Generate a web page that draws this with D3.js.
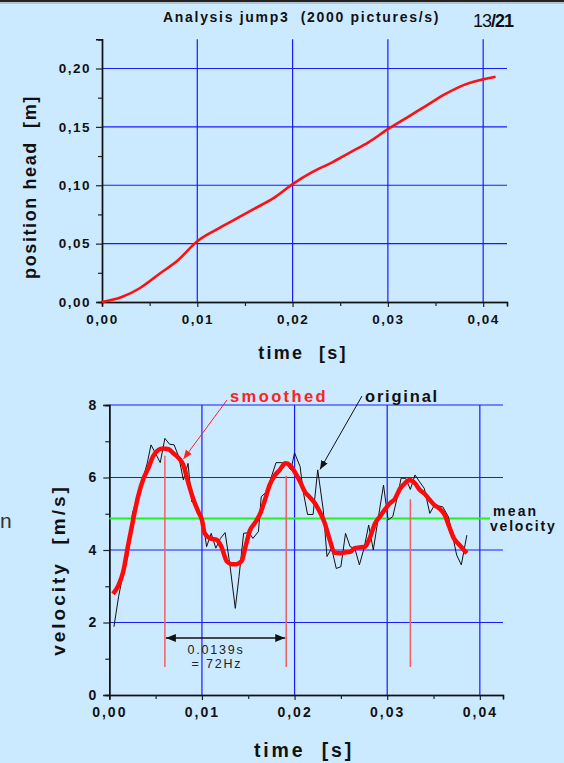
<!DOCTYPE html>
<html><head><meta charset="utf-8">
<script src="https://cdn.jsdelivr.net/npm/d3@7"></script>
<style>
html,body{margin:0;padding:0;background:#cceaff;}
svg{display:block;font-family:"Liberation Sans",Arial,sans-serif;}
</style></head>
<body>
<script>
// ---------- data ----------
const posTime = [0,0.002,0.004,0.006,0.008,0.010,0.012,0.014,0.016,0.018,0.020,0.022,0.024,0.026,0.028,0.030,0.032,0.034,0.036,0.038,0.0413];
const posValue = [0,0.004,0.012,0.024,0.036,0.052,0.062,0.071,0.080,0.089,0.101,0.111,0.119,0.128,0.137,0.148,0.158,0.168,0.178,0.186,0.193];

const origTime = [0.0005,0.001,0.0015,0.002,0.0025,0.003,0.0036,0.0041,0.0045,0.0049,0.0055,0.006,0.0065,0.007,0.0075,0.008,0.0085,0.0089,0.0094,0.0101,0.0105,0.011,0.0115,0.012,0.0125,0.013,0.0136,0.014,0.0145,0.0151,0.0155,0.0161,0.0164,0.017,0.0175,0.018,0.0186,0.019,0.0196,0.020,0.0206,0.0209,0.0214,0.022,0.0225,0.0231,0.0235,0.024,0.0245,0.025,0.0255,0.026,0.0265,0.027,0.0275,0.028,0.0285,0.029,0.0296,0.0301,0.0306,0.0311,0.0315,0.032,0.0325,0.033,0.0335,0.034,0.0346,0.0351,0.0356,0.036,0.0366,0.037,0.0375,0.038,0.0386];
const origValue = [1.88,2.71,3.36,3.82,5.02,5.43,5.93,6.40,6.90,6.71,6.41,7.08,6.92,6.90,6.57,5.93,6.39,5.33,5.24,4.83,4.09,4.46,4.05,4.32,4.48,3.63,2.39,3.26,4.46,4.48,4.32,4.51,5.47,5.61,6.02,6.41,6.41,6.41,6.21,6.68,6.30,5.66,4.98,4.98,6.21,5.10,3.82,4.05,3.49,3.54,4.46,4.09,4.05,3.59,4.05,4.69,4.00,4.83,5.79,4.83,4.92,5.47,5.98,5.98,5.67,6.07,5.88,5.70,5.01,5.24,5.21,5.19,4.92,4.46,3.86,3.59,4.41];

const smoothTime = [0.0004,0.001,0.0015,0.002,0.0026,0.0031,0.0037,0.0042,0.0047,0.0053,0.0058,0.0064,0.0069,0.0074,0.008,0.0085,0.0091,0.0096,0.010,0.0103,0.0109,0.0116,0.0121,0.0127,0.0132,0.0137,0.0143,0.0147,0.0152,0.0157,0.0163,0.0168,0.0173,0.0179,0.0184,0.019,0.0195,0.020,0.0206,0.0211,0.0216,0.0222,0.0227,0.0232,0.0238,0.0243,0.0249,0.0254,0.026,0.0265,0.027,0.0276,0.0281,0.0287,0.0292,0.0297,0.0303,0.0308,0.0314,0.0319,0.0324,0.033,0.0335,0.034,0.0346,0.0351,0.0356,0.0362,0.0367,0.0372,0.0378,0.0386];
const smoothValue = [2.79,3.03,3.40,4.09,4.87,5.47,5.98,6.25,6.57,6.76,6.80,6.78,6.67,6.56,6.34,5.88,5.38,5.06,4.83,4.46,4.32,4.28,4.09,3.68,3.61,3.61,3.70,4.09,4.55,4.74,5.01,5.38,5.79,6.07,6.21,6.39,6.34,6.16,5.88,5.61,5.47,5.29,5.06,4.78,4.28,3.93,3.91,3.93,3.95,4.05,4.07,4.09,4.32,4.74,4.92,5.10,5.29,5.40,5.70,5.84,5.93,5.84,5.66,5.56,5.38,5.24,5.15,4.97,4.64,4.32,4.14,3.91];

const peakTimes = [0.006, 0.0191, 0.0325];
const peakTops = [6.6, 6.05, 5.4];
const meanVelocity = 4.87;
const periodText = ["0.0139s", "= 72Hz"];

const posTicks = [0,0.05,0.10,0.15,0.20];
const velTicks = [0,2,4,6,8];
const timeTicks = [0,0.01,0.02,0.03,0.04];

// ---------- drawing ----------
const W = 564, H = 763;
const svg = d3.select("body").append("svg").attr("width", W).attr("height", H);
svg.append("rect").attr("width", W).attr("height", H).attr("fill", "#cceaff");
svg.append("line").attr("x1",0).attr("x2",W).attr("y1",1).attr("y2",1).attr("stroke","#222").attr("stroke-width",2);
svg.append("line").attr("x1",0).attr("x2",W).attr("y1",3).attr("y2",3).attr("stroke","#999").attr("stroke-width",1);

const defs = svg.append("defs");
function marker(id, color, size){
  defs.append("marker").attr("id", id).attr("viewBox","0 0 10 10").attr("refX",10).attr("refY",5)
    .attr("markerWidth",size).attr("markerHeight",size).attr("orient","auto-start-reverse")
    .attr("markerUnits","userSpaceOnUse")
    .append("path").attr("d","M0,1 L10,5 L0,9 z").attr("fill",color);
}
marker("arrR","#ff2020",9);
marker("arrK","#111",9);
marker("arrP","#111",10);

// Title
svg.append("text").attr("x",163).attr("y",22).attr("font-size",14).attr("font-weight","bold")
  .attr("letter-spacing",1.7).attr("fill","#111")
  .style("white-space","pre").text("Analysis jump3  (2000 pictures/s)");
const pg = svg.append("text").attr("x",473).attr("y",27).attr("font-size",18).attr("letter-spacing",-1).attr("fill","#111");
pg.append("tspan").text("13");
pg.append("tspan").attr("font-weight","bold").text("/21");

// small letter at left edge
svg.append("text").attr("x",0).attr("y",528).attr("font-size",21).attr("fill","#333").text("n");

const fmt = d => d3.format(".2f")(d).replace(".", ",");

function drawFrame(g, x, y, xTicks, yTicks, yFmt, yMinor, fs, ls){
  const [x0, x1] = x.range();
  const [yb, yt] = y.range();
  g.selectAll(".hg").data(yTicks.filter(d => d > 0)).join("line")
    .attr("x1", x0).attr("x2", x1).attr("y1", d => y(d)).attr("y2", d => y(d))
    .attr("stroke", "#1a1aff").attr("stroke-width", 1.2);
  g.selectAll(".vg").data(xTicks.filter(d => d > 0)).join("line")
    .attr("x1", d => x(d)).attr("x2", d => x(d)).attr("y1", yt).attr("y2", yb)
    .attr("stroke", "#1a1aff").attr("stroke-width", 1.2);
  const yAx = g.append("g").attr("transform", `translate(${x0},0)`)
    .call(d3.axisLeft(y).tickValues(yTicks).tickFormat(yFmt).tickSize(6).tickPadding(5));
  const yMin = g.append("g").attr("transform", `translate(${x0},0)`)
    .call(d3.axisLeft(y).tickValues(yMinor).tickFormat("").tickSize(4));
  const xMinor = d3.range(0.005, x.domain()[1], 0.01);
  const xAx = g.append("g").attr("transform", `translate(0,${yb})`)
    .call(d3.axisBottom(x).tickValues(xTicks).tickFormat(fmt).tickSize(5).tickPadding(7));
  const xMin = g.append("g").attr("transform", `translate(0,${yb})`)
    .call(d3.axisBottom(x).tickValues(xMinor).tickFormat("").tickSize(4));
  [yAx, yMin, xAx, xMin].forEach(a => {
    a.select(".domain").attr("stroke", "#111").attr("stroke-width", 1.4);
    a.selectAll(".tick line").attr("stroke", "#222").attr("stroke-width", 1.2);
    a.selectAll("text").attr("font-size", fs).attr("font-weight", "bold").attr("fill", "#111")
      .attr("letter-spacing", ls).attr("font-family", '"Liberation Sans",Arial,sans-serif');
  });
  xAx.select(".domain").attr("stroke", "#555");
}

// ---------- top chart ----------
const xTop = d3.scaleLinear().domain([0, 0.0425]).range([102, 507]);
const yTop = d3.scaleLinear().domain([0, 0.225]).range([302, 39.3]);
const gTop = svg.append("g");
drawFrame(gTop, xTop, yTop, timeTicks, posTicks, fmt, d3.range(0.025, 0.226, 0.05), 13.5, 1.5);
gTop.append("path").datum(posTime.map((t, i) => [t, posValue[i]]))
  .attr("d", d3.line().x(d => xTop(d[0])).y(d => yTop(d[1])).curve(d3.curveMonotoneX))
  .attr("fill", "none").attr("stroke", "#ff1010").attr("stroke-width", 2.6);
svg.append("text").attr("x", 303).attr("y", 359).attr("text-anchor", "middle").attr("font-size", 18)
  .attr("font-weight", "bold").attr("letter-spacing", 2.3).attr("fill", "#111").style("white-space","pre").text("time  [s]");
svg.append("text").attr("transform", "translate(36,187) rotate(-90)").attr("text-anchor", "middle")
  .attr("font-size", 18).attr("font-weight", "bold").attr("letter-spacing", 1.6).attr("fill", "#111")
  .style("white-space","pre").text("position head  [m]");

// ---------- bottom chart ----------
const xBot = d3.scaleLinear().domain([0, 0.0425]).range([109.3, 503]);
const yBot = d3.scaleLinear().domain([0, 8]).range([695, 405]);
const gBot = svg.append("g");
drawFrame(gBot, xBot, yBot, timeTicks, velTicks, d => d, [1, 3, 5, 7], 14, 2);

gBot.append("line").attr("x1", xBot(0)).attr("x2", 490).attr("y1", yBot(meanVelocity)).attr("y2", yBot(meanVelocity))
  .attr("stroke", "#22ee22").attr("stroke-width", 2);

gBot.selectAll(".pk").data(peakTimes).join("line")
  .attr("x1", d => xBot(d)).attr("x2", d => xBot(d))
  .attr("y1", (d, i) => yBot(peakTops[i])).attr("y2", 667)
  .attr("stroke", "#f06060").attr("stroke-width", 1.5);

gBot.append("path").datum(origTime.map((t, i) => [t, origValue[i]]))
  .attr("d", d3.line().x(d => xBot(d[0])).y(d => yBot(d[1])))
  .attr("fill", "none").attr("stroke", "#111").attr("stroke-width", 1);
gBot.append("path").datum(smoothTime.map((t, i) => [t, smoothValue[i]]))
  .attr("d", d3.line().x(d => xBot(d[0])).y(d => yBot(d[1])).curve(d3.curveMonotoneX))
  .attr("fill", "none").attr("stroke", "#ff0a0a").attr("stroke-width", 4.5).attr("stroke-linejoin", "round");

gBot.append("line").attr("x1", xBot(peakTimes[0]) + 1).attr("x2", xBot(peakTimes[1]) - 1).attr("y1", 638).attr("y2", 638)
  .attr("stroke", "#111").attr("stroke-width", 1.5)
  .attr("marker-start", "url(#arrP)").attr("marker-end", "url(#arrP)");
svg.append("text").attr("x", 216).attr("y", 654).attr("text-anchor", "middle").attr("font-size", 12.5)
  .attr("letter-spacing", 1.8).attr("fill", "#222").text(periodText[0]);
svg.append("text").attr("x", 217).attr("y", 668).attr("text-anchor", "middle").attr("font-size", 12.5)
  .attr("letter-spacing", 1.8).attr("fill", "#222").text(periodText[1]);

svg.append("text").attr("x", 230).attr("y", 402).attr("font-size", 16.5).attr("font-weight", "bold")
  .attr("letter-spacing", 2.4).attr("fill", "#ff2020").text("smoothed");
svg.append("line").attr("x1", 227).attr("y1", 400).attr("x2", 183.5).attr("y2", 459)
  .attr("stroke", "#ff2020").attr("stroke-width", 1).attr("marker-end", "url(#arrR)");
svg.append("text").attr("x", 365).attr("y", 402).attr("font-size", 16.5).attr("font-weight", "bold")
  .attr("letter-spacing", 1.8).attr("fill", "#111").text("original");
svg.append("line").attr("x1", 362).attr("y1", 396).attr("x2", 320).attr("y2", 469.5)
  .attr("stroke", "#111").attr("stroke-width", 1).attr("marker-end", "url(#arrK)");
svg.append("text").attr("x", 493).attr("y", 516).attr("font-size", 14).attr("font-weight", "bold")
  .attr("letter-spacing", 2.2).attr("fill", "#111").text("mean");
svg.append("text").attr("x", 490).attr("y", 531).attr("font-size", 14).attr("font-weight", "bold")
  .attr("letter-spacing", 1.8).attr("fill", "#111").text("velocity");

svg.append("text").attr("x", 304).attr("y", 757).attr("text-anchor", "middle").attr("font-size", 19.5)
  .attr("font-weight", "bold").attr("letter-spacing", 2.8).attr("fill", "#111").style("white-space","pre").text("time  [s]");
svg.append("text").attr("transform", "translate(65,570) rotate(-90)").attr("text-anchor", "middle")
  .attr("font-size", 19).attr("font-weight", "bold").attr("letter-spacing", 3).attr("fill", "#111")
  .style("white-space","pre").text("velocity  [m/s]");
</script>
</body></html>
